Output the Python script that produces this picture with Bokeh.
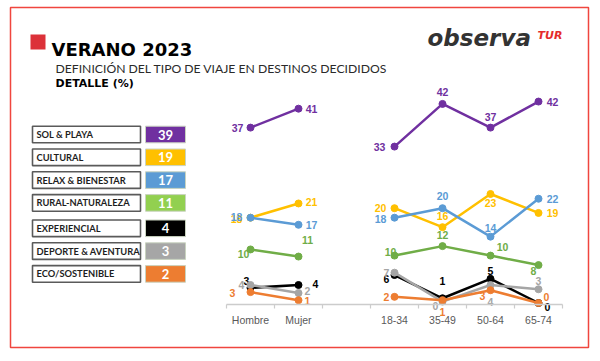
from bokeh.plotting import figure
from bokeh.models import Range1d, LinearAxis, FixedTicker, ColumnDataSource
from bokeh.core.properties import value
from bokeh.embed import file_html
from bokeh.resources import INLINE

# ---------------- data ----------------
categories = ["Hombre", "Mujer", "", "18-34", "35-49", "50-64", "65-74"]
point_categories = ["Hombre", "Mujer", "18-34", "35-49", "50-64", "65-74"]
line_groups = [["Hombre", "Mujer"], ["18-34", "35-49", "50-64", "65-74"]]

series_names = ["SOL & PLAYA", "CULTURAL", "RELAX & BIENESTAR", "RURAL-NATURALEZA",
                "EXPERIENCIAL", "DEPORTE & AVENTURA", "ECO/SOSTENIBLE"]
series_totals = [39, 19, 17, 11, 4, 3, 2]

sol_playa = [37, 41, 33, 42, 37, 42.5]
cultural = [18, 21, 20, 16, 23, 19]
relax = [18, 16.5, 18, 20, 14, 22]
rural = [11.3, 9.8, 10, 12, 10, 8]
experiencial = [3.2, 3.8, 5.9, 1.0, 5.1, 0]
deporte = [3.8, 2.1, 6.4, 0.3, 3.8, 2.9]
eco = [2.3, 0.6, 1.3, 0.6, 2.7, 0]

sol_playa_labels = ["37", "41", "33", "42", "37", "42"]
cultural_labels = ["18", "21", "20", "16", "23", "19"]
relax_labels = ["18", "17", "18", "20", "14", "22"]
rural_labels = ["10", "11", "10", "12", "10", "8"]
experiencial_labels = ["3", "4", "6", "1", "5", "0"]
deporte_labels = ["4", "2", "7", "0", "4", "3"]
eco_labels = ["3", "1", "2", "1", "3", "0"]

title = "VERANO 2023"
subtitle = "DEFINICIÓN DEL TIPO DE VIAJE EN DESTINOS DECIDIDOS"
subtitle2 = "DETALLE (%)"
logo_main = "observa"
logo_tag = "TUR"

# ---------------- styles / layout ----------------
line_colors = ["#7030A0", "#FFC000", "#5B9BD5", "#70AD47", "#000000", "#A5A5A5", "#ED7D31"]
box_colors = ["#7030A0", "#FFC000", "#5B9BD5", "#92D050", "#000000", "#A6A6A6", "#ED7D31"]
label_offsets = [
    [(-13, 0), (13, 0), (-15, 0), (0, -12), (0, -11), (14, 0)],
    [(-14, 1), (13, -1), (-14, 0), (0, -11), (0, 9), (14, 0)],
    [(-14, -1), (13, 0), (-14, 1), (0, -12), (0, -9), (14, 0)],
    [(-7, 5), (9, -17), (-4, -4), (0, -11), (12, -9), (-5, 6)],
    [(-4, -7), (17, -1), (-8, 4), (0, -17), (0, -8), (9, 4)],
    [(-9, 0), (9, -2), (-8, 0), (-7, 4), (0, 17), (0, -8)],
    [(-18, 1), (9, 1), (-8, 0), (0, 12), (-8, 6), (8, -6)],
]

series_values = [sol_playa, cultural, relax, rural, experiencial, deporte, eco]
series_labels = [sol_playa_labels, cultural_labels, relax_labels, rural_labels,
                 experiencial_labels, deporte_labels, eco_labels]

W, H = 600, 361
# frame == red outline box, in page pixels
FL, FR, FT, FB = 10, 588, 7, 347
px_range = Range1d(FL, FR)
py_range = Range1d(FB, FT)   # flipped: page y grows downward

# chart scales: category step 48 px, first category at page x 250; 4.74 px per unit
step = 48.0
x0 = 250.0
ppu = 4.74
y_zero = 302.5
x_range = Range1d((FL - x0) / step, (FR - x0) / step)
y_range = Range1d((y_zero - FB) / ppu, (y_zero - FT) / ppu)

p = figure(width=W, height=H, x_range=x_range, y_range=y_range,
           x_axis_type=None, y_axis_type=None, toolbar_location=None,
           output_backend="svg", min_border_left=FL, min_border_right=W - FR,
           min_border_top=FT, min_border_bottom=H - FB)
p.extra_x_ranges = {"px": px_range}
p.extra_y_ranges = {"py": py_range}
p.outline_line_color = "#F0463E"
p.outline_line_width = 1.5
p.background_fill_color = "white"
p.border_fill_color = "white"

# x axis (fixed at the baseline, inside the frame)
cat_index = {c: i for i, c in enumerate(categories)}
ticks = [i for i, c in enumerate(categories) if c]
axis = LinearAxis(
    ticker=FixedTicker(ticks=ticks, minor_ticks=[i - 0.5 for i in range(len(categories) + 1)]),
    major_label_overrides={i: categories[i] for i in ticks},
    bounds=(-0.5, len(categories) - 0.5),
    fixed_location=-0.3,
)
axis.axis_line_color = "#CCCCCC"
axis.axis_line_width = 1.3
axis.major_tick_line_color = None
axis.major_tick_out = 0
axis.major_tick_in = 0
axis.minor_tick_line_color = "#CCCCCC"
axis.minor_tick_line_width = 1.2
axis.minor_tick_out = 4
axis.minor_tick_in = 0
axis.major_label_standoff = 6
axis.major_label_text_font = "Liberation Sans"
axis.major_label_text_font_size = "10.5px"
axis.major_label_text_color = "#595959"
p.add_layout(axis, "below")

# lines, markers and labels
for vals, labs, col, offs in zip(series_values, series_labels, line_colors, label_offsets):
    lookup = dict(zip(point_categories, vals))
    for grp in line_groups:
        p.line(x=[cat_index[c] for c in grp], y=[lookup[c] for c in grp],
               line_color=col, line_width=2.5)
    xs = [cat_index[c] for c in point_categories]
    p.scatter(x=xs, y=vals, size=7, fill_color=col, line_color=col)
    src = ColumnDataSource(dict(x=xs, y=vals, t=labs,
                                dx=[o[0] for o in offs], dy=[o[1] for o in offs]))
    p.text(x="x", y="y", text="t", x_offset="dx", y_offset="dy", source=src,
           text_color=col, text_font=value("Liberation Sans"), text_font_style="bold",
           text_font_size="10.5px", text_align="center", text_baseline="middle")

# legend boxes
rows_y = [134 + 22.8 * i + (2.6 if i >= 4 else 0) for i in range(len(series_names))]
half = 8.3
n = len(series_names)
p.quad(left=[32] * n, right=[140] * n, top=[y - half for y in rows_y], bottom=[y + half for y in rows_y],
       fill_color="white", line_color="#5A5A5A", line_width=1.6,
       x_range_name="px", y_range_name="py")
p.quad(left=[145] * n, right=[185] * n, top=[y - half for y in rows_y], bottom=[y + half for y in rows_y],
       fill_color=box_colors, line_color="#C9D3C0", line_width=1,
       x_range_name="px", y_range_name="py")
p.text(x=[36] * n, y=rows_y, text=series_names, x_range_name="px", y_range_name="py",
       text_font=value("Lato"), text_font_style="bold", text_font_size="9.3px",
       text_color="#1E1E1E", text_align="left", text_baseline="middle")
p.text(x=[165] * n, y=rows_y, text=[str(v) for v in series_totals], x_range_name="px", y_range_name="py",
       text_font=value("Lato"), text_font_style="bold", text_font_size="13px",
       text_color="white", text_align="center", text_baseline="middle")

# header
p.quad(left=[30], right=[45], top=[34], bottom=[49], fill_color="#DC3139", line_color=None,
       x_range_name="px", y_range_name="py")
p.text(x=[51], y=[48.5], text=[title], x_range_name="px", y_range_name="py",
       text_font=value("DejaVu Sans"), text_font_style="bold", text_font_size="18px",
       text_color="#000000", text_baseline="alphabetic")
p.text(x=[55], y=[68], text=[subtitle], x_range_name="px", y_range_name="py",
       text_font=value("Lato"), text_font_style="normal", text_font_size="12.2px",
       text_color="#2A2A2A", text_baseline="alphabetic")
p.text(x=[55], y=[83], text=[subtitle2], x_range_name="px", y_range_name="py",
       text_font=value("DejaVu Sans"), text_font_style="bold", text_font_size="11px",
       text_color="#000000", text_baseline="alphabetic")
p.text(x=[427], y=[37.5], text=[logo_main], x_range_name="px", y_range_name="py",
       text_font=value("DejaVu Sans"), text_font_style="bold italic", text_font_size="23px",
       text_color="#333333", text_baseline="alphabetic")
p.text(x=[537], y=[35], text=[logo_tag], x_range_name="px", y_range_name="py",
       text_font=value("DejaVu Sans"), text_font_style="bold italic", text_font_size="11px",
       text_color="#E52B2B", text_baseline="alphabetic")

open("out.html", "w").write(file_html(p, INLINE))
